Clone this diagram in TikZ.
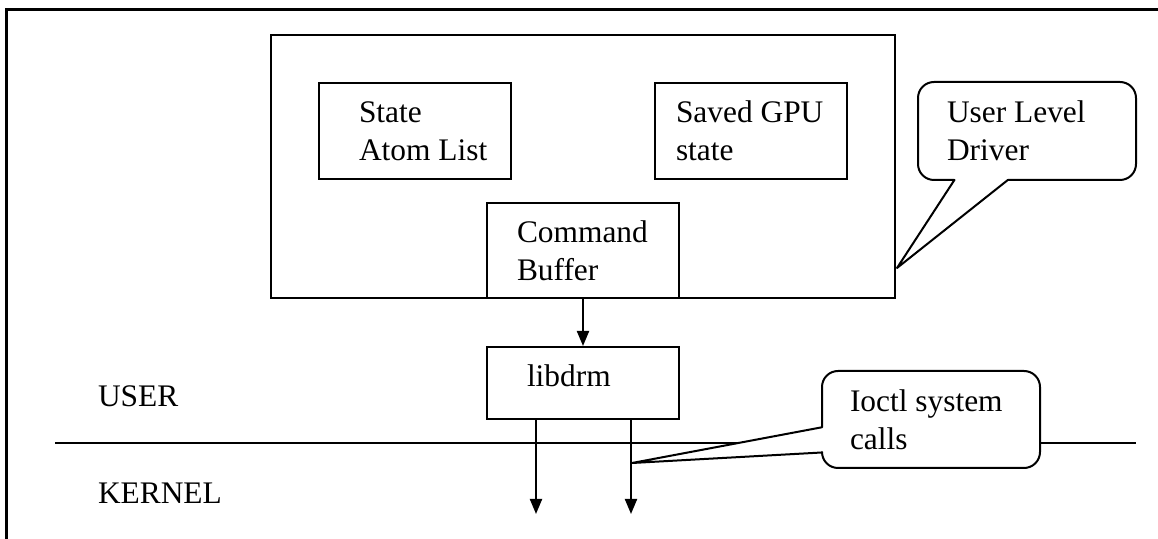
\documentclass[tikz,border=0pt]{standalone}
\usepackage{fontspec}
\setmainfont{Liberation Serif}
\usepackage{tikz}
\usetikzlibrary{calc, positioning}
\usetikzlibrary{arrows.meta}
\tikzset{>={Triangle[width=6pt,length=7.5pt]}}

\begin{document}
\begin{tikzpicture}[
    x = 0.5pt, y = -0.5pt,
    line width = 1pt,
    font = \fontsize{15.7}{18.8}\selectfont,
    box/.style = {draw, rectangle, inner sep = 0pt, minimum width = 96pt},
    txt/.style = {inner sep = 0pt, align = left},
    note/.style = {rectangle, inner sep = 0pt, minimum width = 108pt},
    bubble/.style = {draw, fill = white, line join = round}
  ]
  \useasboundingbox (0,0) rectangle (1158,539);
  \draw[line width = 1.5pt] (6,550) -- (6,10) -- (1170,10);

  % user level driver
  \node[box, minimum width = 312pt, minimum height = 131.5pt] (uld) at (583,166.5) {};
  \node[box, minimum height = 48pt] (atoms) at (415,131) {};
  \node[txt, right = 20pt of atoms.west] (atomstxt) {State\\Atom List};
  \node[box, minimum height = 48pt] (gpu) at (751,131) {};
  \node[txt, right = 10.5pt of gpu.west] (gputxt) {Saved GPU\\state};
  \node[box, minimum height = 47.5pt] (cmdbuf) at (583,250.5) {};
  \node[txt, right = 15pt of cmdbuf.west] (cmdbuftxt) {Command\\Buffer};

  \node[box, minimum height = 36pt] (libdrm) at (583,383) {};
  \node[txt, right = 20pt of libdrm.west, yshift = 3.5pt] (libdrmtxt) {libdrm};
  \draw[->] (cmdbuf) -- (libdrm);

  % user / kernel
  \coordinate (sepw) at (55,443);
  \coordinate (sepe) at (1136,443);
  \draw (sepw) -- (sepe);
  \node[txt, anchor = base west] (user) at (97,407) {USER};
  \node[txt, anchor = base west] (kernel) at (97,504) {KERNEL};

  \coordinate (call1) at (536,514);
  \coordinate (call2) at (631,514);
  \draw[->] (libdrm.south -| call1) -- (call1);
  \draw[->] (libdrm.south -| call2) -- (call2);

  % callouts
  \node[note, minimum height = 48pt] (uldnote) at (1027,131) {};
  \coordinate (uldtip) at (897,268);
  \draw[bubble] (uldtip) -- ($(uldnote.south west)!0.412!(uldnote.south east)$)
    [rounded corners = 8pt] -- (uldnote.south east) -- (uldnote.north east)
    -- (uldnote.north west) -- (uldnote.south west)
    [sharp corners] -- ($(uldnote.south west)!0.167!(uldnote.south east)$) -- cycle;
  \node[txt, right = 14pt of uldnote.west] (uldtxt) {User Level\\Driver};

  \node[note, minimum height = 47.5pt] (ioctlnote) at (931,419.5) {};
  \coordinate (ioctltip) at (632,463);
  \draw[bubble] (ioctltip) -- ($(ioctlnote.north west)!0.84!(ioctlnote.south west)$)
    [rounded corners = 8pt] -- (ioctlnote.south west) -- (ioctlnote.south east)
    -- (ioctlnote.north east) -- (ioctlnote.north west)
    [sharp corners] -- ($(ioctlnote.north west)!0.58!(ioctlnote.south west)$) -- cycle;
  \node[txt, right = 13.5pt of ioctlnote.west] (ioctltxt) {Ioctl system\\calls};
\end{tikzpicture}
\end{document}
